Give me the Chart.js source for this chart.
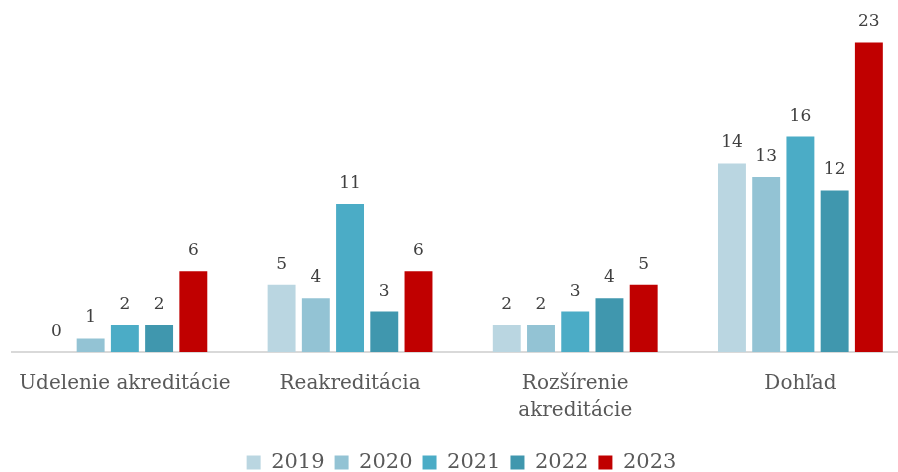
<!DOCTYPE html>
<html>
<head>
<meta charset="utf-8">
<script src="https://cdn.jsdelivr.net/npm/chart.js@4.4.1/dist/chart.umd.min.js"></script>
<style>
  html, body { margin: 0; padding: 0; background: #ffffff; overflow: hidden; }
  #wrap { width: 913px; height: 483px; }
</style>
</head>
<body>
<div id="wrap"><canvas id="grafico"></canvas></div>
<script>
const kategorie = ['Udelenie akreditácie', 'Reakreditácia', ['Rozšírenie', 'akreditácie'], 'Dohľad'];
const roky = ['2019', '2020', '2021', '2022', '2023'];
const hodnoty2019 = [0, 5, 2, 14];
const hodnoty2020 = [1, 4, 2, 13];
const hodnoty2021 = [2, 11, 3, 16];
const hodnoty2022 = [2, 3, 4, 12];
const hodnoty2023 = [6, 6, 5, 23];
const farby = ['#BAD6E1', '#93C3D4', '#4BACC6', '#4097AE', '#C00000'];

const pismo = "'DejaVu Serif', 'Liberation Serif', serif";
const serie = [hodnoty2019, hodnoty2020, hodnoty2021, hodnoty2022, hodnoty2023];

// popisky hodnot nad stlpcami
const popiskyPlugin = {
    id: 'popisky',
    afterDatasetsDraw(chart) {
        const ctx = chart.ctx;
        ctx.save();
        ctx.font = '17px ' + pismo;
        ctx.fillStyle = '#404040';
        ctx.textAlign = 'center';
        ctx.textBaseline = 'bottom';
        chart.data.datasets.forEach((ds, i) => {
            chart.getDatasetMeta(i).data.forEach((bar, j) => {
                ctx.fillText(ds.data[j], bar.x, bar.y - 12);
            });
        });
        ctx.restore();
    }
};

new Chart(document.getElementById('grafico').getContext('2d'), {
    type: 'bar',
    data: {
        labels: kategorie,
        datasets: roky.map((rok, i) => ({
            label: rok,
            data: serie[i],
            backgroundColor: farby[i],
            borderWidth: 0,
            categoryPercentage: 0.76,
            barPercentage: 0.816
        }))
    },
    options: {
        responsive: true,
        maintainAspectRatio: false,
        animation: false,
        layout: { padding: { left: 10, right: 0, top: 2, bottom: 0 } },
        scales: {
            x: {
                grid: { display: false, drawTicks: false },
                border: { color: '#D9D9D9', width: 2 },
                ticks: { color: '#595959', font: { family: pismo, size: 20, lineHeight: 1.35 }, padding: 18, maxRotation: 0, autoSkip: false }
            },
            y: {
                display: false,
                min: 0,
                max: 26
            }
        },
        plugins: {
            legend: {
                position: 'bottom',
                labels: {
                    color: '#595959',
                    font: { family: pismo, size: 21 },
                    boxWidth: 14,
                    boxHeight: 14,
                    padding: 10
                }
            },
            tooltip: { enabled: false }
        }
    },
    plugins: [popiskyPlugin]
});
</script>
</body>
</html>
